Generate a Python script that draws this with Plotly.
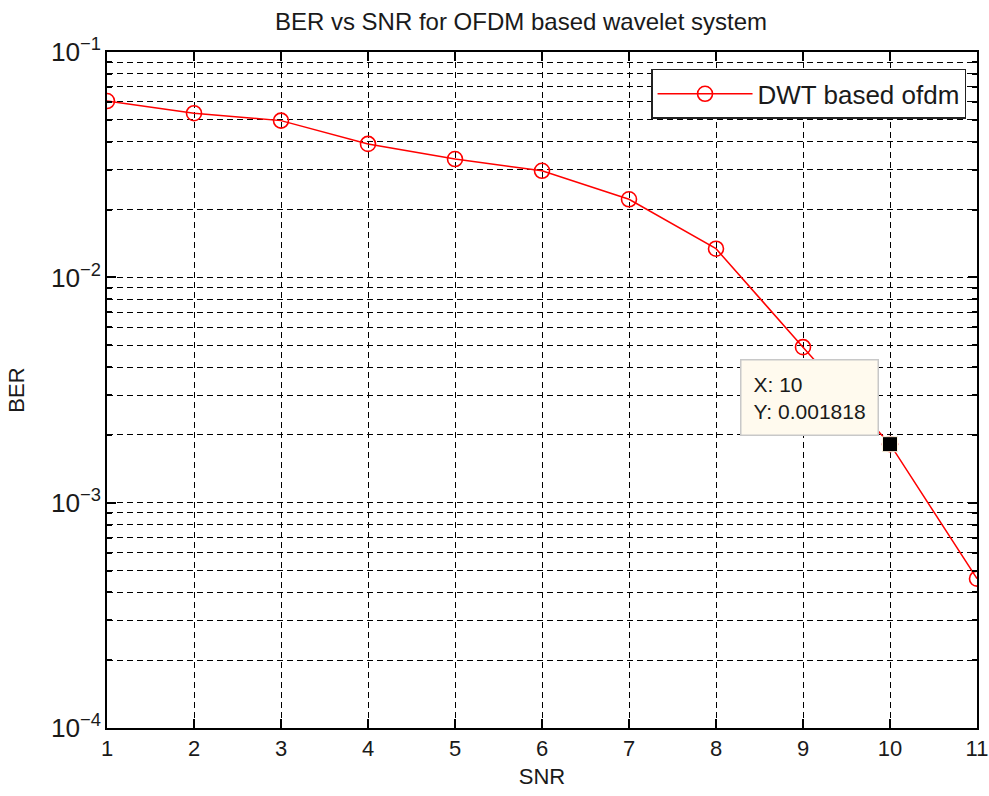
import math
import plotly.graph_objects as go

# Data
snr = [1, 2, 3, 4, 5, 6, 7, 8, 9, 10, 11]
ber = [0.0606, 0.0535, 0.0496, 0.0391, 0.0335, 0.0297, 0.0222, 0.0134, 0.0049, 0.001818, 0.00046]
series_name = "DWT based ofdm"
tip_x = [10]
tip_y = [0.001818]
x_ticks = [1, 2, 3, 4, 5, 6, 7, 8, 9, 10, 11]

FONT = "Arial, Liberation Sans, sans-serif"
TXT = "#1a1a1a"

W, H = 989, 796

fig = go.Figure()
fig.add_trace(go.Scatter(
    x=snr, y=ber, mode="lines+markers", name=series_name,
    line=dict(color="#ff0000", width=1.5),
    marker=dict(symbol="circle-open", size=15, color="#ff0000", line=dict(width=1.6, color="#ff0000")),
))
fig.add_trace(go.Scatter(
    x=tip_x, y=tip_y, mode="markers", showlegend=False,
    marker=dict(symbol="square", size=15, color="black", line=dict(width=1, color="#fff6e0")),
))

fig.add_annotation(
    x=tip_x[0], y=math.log10(tip_y[0]), xref="x", yref="y",
    text=f"X: {tip_x[0]}<br>Y: {tip_y[0]}", showarrow=False, align="left",
    xanchor="right", yanchor="bottom", xshift=-11, yshift=8,
    bgcolor="#fffaee", bordercolor="#c8c8c8", borderwidth=1.5, borderpad=12,
    font=dict(family=FONT, size=21, color=TXT),
)

fig.update_layout(
    width=W, height=H,
    margin=dict(l=107, r=12, t=52, b=68, autoexpand=False),
    paper_bgcolor="white", plot_bgcolor="white",
    font=dict(family=FONT, color=TXT, size=22),
    title=dict(text="BER vs SNR for OFDM based wavelet system", x=521 / W, xanchor="center",
               y=1 - 22 / H, yanchor="middle", font=dict(family=FONT, size=24, color=TXT)),
    showlegend=True,
    legend=dict(x=0.9874, xanchor="right", y=0.975, yanchor="top",
                bgcolor="white", bordercolor="#222", borderwidth=1.5,
                font=dict(family=FONT, size=26, color=TXT), itemwidth=95,
                tracegroupgap=0),
)

fig.update_xaxes(
    range=[1, 11], tickmode="array", tickvals=x_ticks, automargin=False,
    showline=True, linecolor="black", linewidth=1.5, mirror="allticks",
    ticks="inside", ticklen=9, tickcolor="black", tickwidth=1.5,
    showgrid=True, gridcolor="black", gridwidth=1, griddash="6px,4px",
    zeroline=False, tickfont=dict(size=22, family=FONT, color=TXT),
    title=dict(text="SNR", font=dict(size=22, family=FONT, color=TXT), standoff=8),
)
fig.update_yaxes(
    type="log", range=[-4, -1], dtick=1, exponentformat="power", automargin=False,
    showline=True, linecolor="black", linewidth=1.5, mirror="allticks",
    ticks="inside", ticklen=9, tickcolor="black", tickwidth=1.5,
    showgrid=True, gridcolor="black", gridwidth=1, griddash="6px,4px",
    minor=dict(dtick="D1", showgrid=True, gridcolor="black", gridwidth=1, griddash="6px,4px",
               ticks="inside", ticklen=5, tickcolor="black"),
    zeroline=False, tickfont=dict(size=21, family=FONT, color=TXT),
    title=dict(text="BER", font=dict(size=22, family=FONT, color=TXT), standoff=20),
)

fig.write_html(
    "out.html",
    config={"displayModeBar": False},
    post_script="document.body.style.margin='0';document.body.style.overflow='hidden';",
)
